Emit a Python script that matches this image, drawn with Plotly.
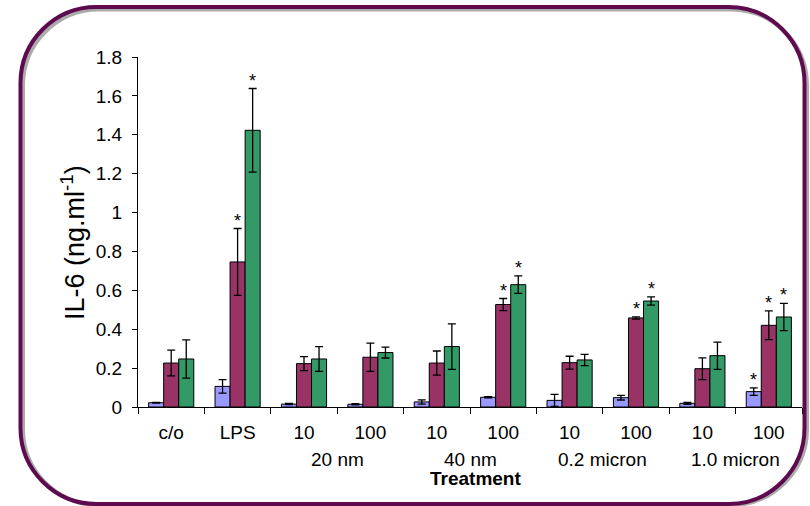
import plotly.graph_objects as go

# ---------------- data ----------------
categories = ["c/o", "LPS", "20nm-10", "20nm-100", "40nm-10", "40nm-100",
              "0.2um-10", "0.2um-100", "1.0um-10", "1.0um-100"]
tick_labels = ["c/o", "LPS", "10", "100", "10", "100", "10", "100", "10", "100"]
size_groups = ["20 nm", "40 nm", "0.2 micron", "1.0 micron"]
size_group_members = [[2, 3], [4, 5], [6, 7], [8, 9]]

series_a = [0.022, 0.106, 0.015, 0.014, 0.026, 0.050, 0.034, 0.048, 0.019, 0.079]
series_a_err = [0.002, 0.035, 0.003, 0.003, 0.011, 0.003, 0.031, 0.012, 0.005, 0.019]
series_a_sig = [0, 0, 0, 0, 0, 0, 0, 0, 0, 1]

series_b = [0.226, 0.746, 0.223, 0.256, 0.226, 0.527, 0.228, 0.458, 0.197, 0.420]
series_b_err = [0.066, 0.172, 0.036, 0.073, 0.062, 0.031, 0.033, 0.006, 0.056, 0.074]
series_b_sig = [0, 1, 0, 0, 0, 1, 0, 1, 0, 1]

series_c = [0.247, 1.423, 0.247, 0.280, 0.311, 0.629, 0.242, 0.545, 0.264, 0.463]
series_c_err = [0.098, 0.215, 0.064, 0.028, 0.117, 0.045, 0.029, 0.021, 0.070, 0.070]
series_c_sig = [0, 1, 0, 0, 0, 1, 0, 1, 0, 1]

colors = ["#9999FF", "#993366", "#339966"]

# ---------------- layout geometry ----------------
W, H = 810, 506
ML, MR, MT, MB = 138, 8, 57, 99
PW, PH = W - ML - MR, H - MT - MB
BARGAP = 0.32
FONT = "Arial, Liberation Sans, sans-serif"


def px(x):
    return (x - ML) / PW


def py(y):
    return (H - MB - y) / PH


fig = go.Figure()
all_series = [(series_a, series_a_err, series_a_sig),
              (series_b, series_b_err, series_b_sig),
              (series_c, series_c_err, series_c_sig)]
for i, (vals, errs, _) in enumerate(all_series):
    fig.add_trace(go.Bar(
        x=categories, y=vals,
        marker=dict(color=colors[i], line=dict(color="black", width=1)),
        error_y=dict(type="data", array=errs, visible=True,
                     color="black", thickness=1.3, width=4),
        showlegend=False,
    ))

# significance asterisks
bw = (1 - BARGAP) / 3
annotations = []
for i, (vals, errs, sig) in enumerate(all_series):
    off = (i - 1) * bw
    for j, s in enumerate(sig):
        if s:
            annotations.append(dict(
                x=j + off, y=vals[j] + errs[j], xref="x", yref="y",
                text="*", showarrow=False, yanchor="bottom",
                font=dict(family=FONT, size=18, color="black"), yshift=-4,
            ))

# group labels under tick labels
for name, members in zip(size_groups, size_group_members):
    annotations.append(dict(
        x=sum(members) / len(members), y=0, xref="x", yref="paper",
        text=name, showarrow=False, yanchor="middle",
        font=dict(family=FONT, size=19, color="black"), yshift=-52,
    ))

annotations.append(dict(
    x=0.5, y=0, xref="paper", yref="paper", text="<b>Treatment</b>",
    showarrow=False, yanchor="middle", xshift=5,
    font=dict(family=FONT, size=19, color="black"), yshift=-71,
))
annotations.append(dict(
    x=px(73), y=py(243), xref="paper", yref="paper",
    text="IL-6 (ng.ml<sup>-1</sup>)", textangle=-90, showarrow=False,
    xanchor="center", yanchor="middle",
    font=dict(family=FONT, size=27, color="black"),
))

# rounded frame with shadow
def rounded_path(L, T, R, B, r):
    k = 0.5523 * r
    pts = [
        ("M", [(L + r, T)]),
        ("L", [(R - r, T)]),
        ("C", [(R - r + k, T), (R, T + r - k), (R, T + r)]),
        ("L", [(R, B - r)]),
        ("C", [(R, B - r + k), (R - r + k, B), (R - r, B)]),
        ("L", [(L + r, B)]),
        ("C", [(L + r - k, B), (L, B - r + k), (L, B - r)]),
        ("L", [(L, T + r)]),
        ("C", [(L, T + r - k), (L + r - k, T), (L + r, T)]),
    ]
    s = ""
    for cmd, ps in pts:
        s += cmd + " " + " ".join(f"{px(x):.5f},{py(y):.5f}" for x, y in ps) + " "
    return s + "Z"


shapes = [
    dict(type="path", xref="paper", yref="paper",
         path=rounded_path(23, 9.5, 807, 505, 76),
         line=dict(color="#ABABAB", width=4), layer="below"),
    dict(type="path", xref="paper", yref="paper",
         path=rounded_path(20.5, 7, 804.5, 504, 76),
         line=dict(color="#5E0A4E", width=4), layer="below"),
]

fig.update_layout(
    width=W, height=H,
    margin=dict(l=ML, r=MR, t=MT, b=MB, pad=0),
    paper_bgcolor="white", plot_bgcolor="white",
    barmode="group", bargap=BARGAP, bargroupgap=0,
    font=dict(family=FONT, size=19, color="black"),
    annotations=annotations, shapes=shapes,
    xaxis=dict(
        type="category", tickmode="array", tickvals=categories, ticktext=tick_labels,
        tickson="boundaries", ticks="outside", ticklen=6, tickcolor="black",
        showline=True, linecolor="black", linewidth=1, showgrid=False,
        zeroline=False, ticklabelstandoff=8, range=[-0.5, 9.5],
        tickfont=dict(family=FONT, size=19, color="black"),
    ),
    yaxis=dict(
        range=[0, 1.8], dtick=0.2, tick0=0, ticks="outside", ticklen=5,
        tickcolor="black", showline=True, linecolor="black", linewidth=1,
        showgrid=False, zeroline=False, ticklabelstandoff=6,
        tickfont=dict(family=FONT, size=19, color="black"),
    ),
)

fig.write_html("out.html")
